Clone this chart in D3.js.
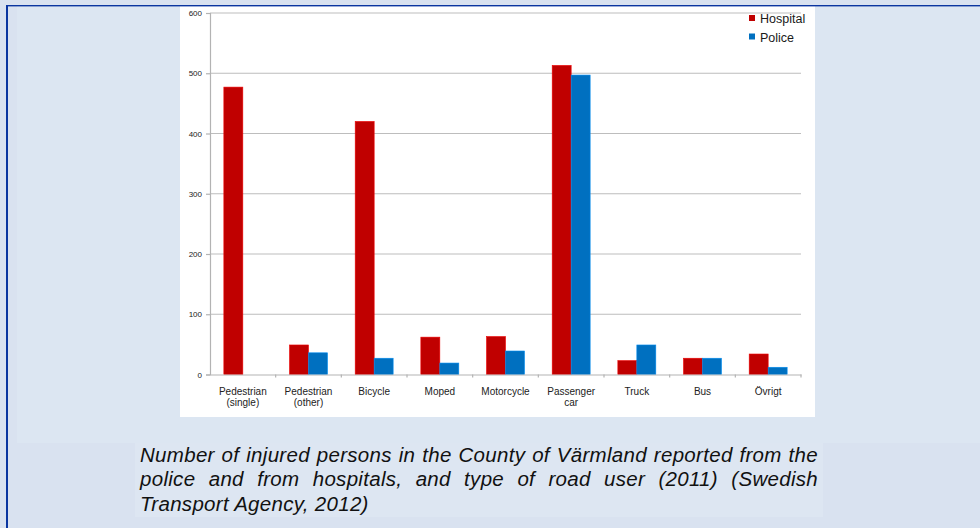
<!DOCTYPE html>
<html>
<head>
<meta charset="utf-8">
<script src="https://cdn.jsdelivr.net/npm/d3@7"></script>
<style>
  body { margin: 0; background: #d9e2f0; font-family: "Liberation Sans", Arial, sans-serif; }
  #wrap { position: relative; width: 980px; height: 528px; overflow: hidden; }
  #caption {
    position: absolute; left: 140px; top: 443px; width: 678px;
    font-style: italic; font-size: 20.5px; letter-spacing: 0.3px; line-height: 24.3px; color: #111;
  }
  #caption div.j { text-align: justify; text-align-last: justify; }
</style>
</head>
<body>
<div id="wrap">
  <div id="viz"></div>
  <div id="caption"></div>
</div>
<script>
// categories and values
const categories = ["Pedestrian\n(single)", "Pedestrian\n(other)", "Bicycle", "Moped", "Motorcycle",
                    "Passenger\ncar", "Truck", "Bus", "Övrigt"];
const hospital = [477, 49, 420, 62, 63, 513, 23, 27, 34];
const police = [0, 36, 27, 19, 39, 497, 49, 27, 12];
const seriesNames = ["Hospital", "Police"];
const seriesColors = ["#c00000", "#0070c0"];
const yTicks = [0, 100, 200, 300, 400, 500, 600];
const captionLines = [
  "Number of injured persons in the County of Värmland reported from the",
  "police and from hospitals, and type of road user (2011) (Swedish",
  "Transport Agency, 2012)"
];

let width = 980;
let height = 528;
let plot = { left: 210, right: 801, top: 13, bottom: 374.5 };

let svg = d3.select("#viz")
  .append("svg")
  .attr("width", width)
  .attr("height", height)
  .style("display", "block");

// page background pieces
svg.append("rect").attr("x", 0).attr("y", 0).attr("width", width).attr("height", height).attr("fill", "#d9e2f0");
svg.append("rect").attr("x", 17).attr("y", 6).attr("width", width - 17).attr("height", 437).attr("fill", "#dce6f2");
svg.append("rect").attr("x", 135).attr("y", 443).attr("width", 688).attr("height", 74).attr("fill", "#dde6f2");
svg.append("rect").attr("x", 180).attr("y", 6).attr("width", 635).attr("height", 411).attr("fill", "#ffffff");
// blue frame lines
svg.append("rect").attr("x", 6).attr("y", 5).attr("width", width - 6).attr("height", 1.4).attr("fill", "#0a35a0");
svg.append("rect").attr("x", 6).attr("y", 5).attr("width", 2).attr("height", height - 5).attr("fill", "#0a35a0");

let x0 = d3.scaleBand()
  .domain(categories)
  .range([plot.left, plot.right])
  .padding(0);

let x1 = d3.scaleBand()
  .domain(seriesNames)
  .range([0, x0.bandwidth()])
  .paddingInner(0)
  .paddingOuter(0.73);

let y = d3.scaleLinear()
  .domain([0, 600])
  .range([plot.bottom, plot.top]);

// gridlines
svg.append("g")
  .selectAll("line")
  .data(yTicks.filter(d => d > 0))
  .join("line")
  .attr("x1", plot.left)
  .attr("x2", plot.right)
  .attr("y1", d => y(d))
  .attr("y2", d => y(d))
  .attr("stroke", "#bdbdbd")
  .attr("stroke-width", 1.2);

// y axis
let yAxis = svg.append("g")
  .attr("transform", `translate(${plot.left},0)`)
  .call(d3.axisLeft(y).tickValues(yTicks).tickSize(4).tickPadding(4));
yAxis.select(".domain").attr("stroke", "#b3b3b3").attr("stroke-width", 1.2);
yAxis.selectAll(".tick line").attr("stroke", "#b3b3b3").attr("stroke-width", 1.2);
yAxis.selectAll("text")
  .attr("font-family", "Liberation Sans, Arial, sans-serif")
  .attr("font-size", "8px")
  .attr("fill", "#222");

// bars
let rows = categories.map((c, i) => ({ cat: c, values: [hospital[i], police[i]] }));

svg.append("g")
  .selectAll("g")
  .data(rows)
  .join("g")
  .attr("transform", d => `translate(${x0(d.cat)},0)`)
  .selectAll("rect")
  .data(d => d.values.map((v, j) => ({ name: seriesNames[j], value: v, color: seriesColors[j] })))
  .join("rect")
  .filter(d => d.value > 0)
  .attr("x", d => x1(d.name))
  .attr("y", d => y(d.value))
  .attr("width", x1.bandwidth())
  .attr("height", d => y(0) - y(d.value))
  .attr("fill", d => d.color)
  .attr("stroke", d => d3.color(d.color).brighter(0.6))
  .attr("stroke-width", 0.6);

// x axis: line, boundary ticks, two-line labels
let xAxis = svg.append("g")
  .attr("transform", `translate(0,${plot.bottom})`)
  .call(d3.axisBottom(x0).tickSize(0).tickPadding(0));
xAxis.select(".domain").attr("stroke", "#b3b3b3").attr("stroke-width", 1.2);
xAxis.selectAll(".tick text").each(function (d) {
  let t = d3.select(this).text(null)
    .attr("font-family", "Liberation Sans, Arial, sans-serif")
    .attr("font-size", "10px")
    .attr("fill", "#222")
    .attr("y", 0)
    .attr("dy", null);
  d.split("\n").forEach((line, k) => {
    t.append("tspan").attr("x", 0).attr("y", 20 + k * 11).text(line);
  });
});
xAxis.append("g")
  .selectAll("line")
  .data(categories.slice(1).map(c => x0(c)).concat([plot.right]))
  .join("line")
  .attr("x1", d => d)
  .attr("x2", d => d)
  .attr("y1", 0)
  .attr("y2", 3)
  .attr("stroke", "#b3b3b3")
  .attr("stroke-width", 1.2);

// legend
let legend = svg.append("g")
  .selectAll("g")
  .data(seriesNames)
  .join("g")
  .attr("transform", (d, i) => `translate(749,${15 + i * 18.5})`);
legend.append("rect")
  .attr("width", 6)
  .attr("height", 6)
  .attr("fill", (d, i) => seriesColors[i]);
legend.append("text")
  .attr("x", 11)
  .attr("y", 8)
  .attr("font-family", "Liberation Sans, Arial, sans-serif")
  .attr("font-size", "12.5px")
  .attr("fill", "#1a1a1a")
  .text(d => d);

// caption, first two lines justified
d3.select("#caption")
  .selectAll("div")
  .data(captionLines)
  .join("div")
  .attr("class", (d, i) => i < captionLines.length - 1 ? "j" : null)
  .text(d => d);
</script>
</body>
</html>
